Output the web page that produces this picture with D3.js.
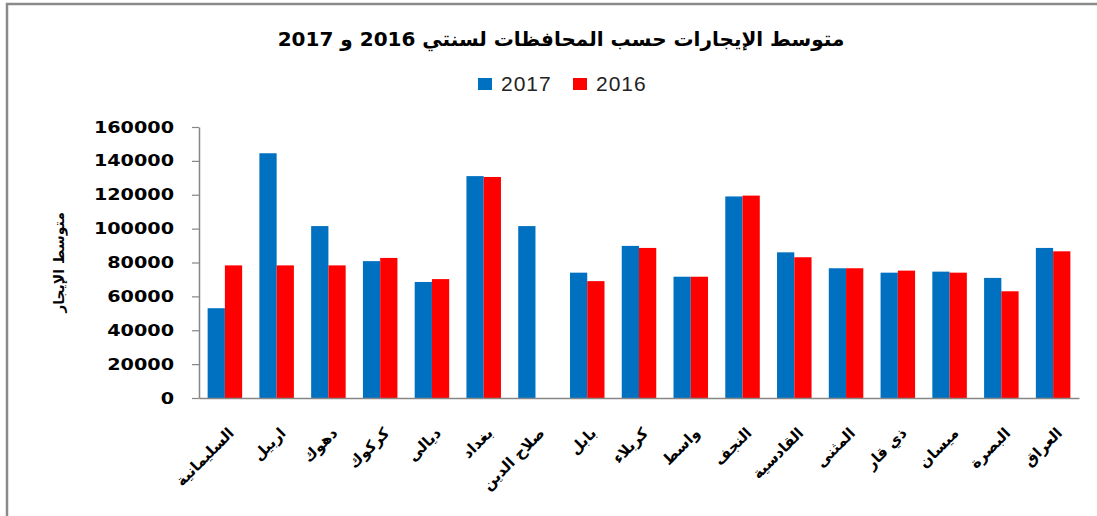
<!DOCTYPE html>
<html>
<head>
<meta charset="utf-8">
<script src="https://cdn.jsdelivr.net/npm/d3@7"></script>
<style>
  body { margin: 0; background: #fff; }
  svg { display: block; }
</style>
</head>
<body>
<svg id="chart" width="1097" height="516"></svg>
<script>
// ── Data ──────────────────────────────────────────────────────────────────────
const categories = [
  "السليمانية", "اربيل", "دهوك", "كركوك", "ديالى", "بغداد", "صلاح الدين",
  "بابل", "كربلاء", "واسط", "النجف", "القادسية", "المثنى", "ذي قار",
  "ميسان", "البصرة", "العراق",
];
const series = ["2017", "2016"];
const values2017 = [53000, 144500, 101500, 80800, 68500, 131000, 101500, 74000, 89800,
                    71600, 119000, 86000, 76600, 74000, 74600, 70900, 88600];
const values2016 = [78300, 78300, 78300, 82700, 70200, 130500, null, 69000, 88600,
                    71600, 119500, 83100, 76600, 75200, 74000, 63000, 86600];
const yTicks = [0, 20000, 40000, 60000, 80000, 100000, 120000, 140000, 160000];

const title = "متوسط الإيجارات حسب المحافظات لسنتي 2016 و 2017";
const yTitle = "متوسط الإيجار";

const COLORS = { "2017": "#0070c0", "2016": "#ff0000" };
const AXIS_GREY = "#868686";

// ── Layout ────────────────────────────────────────────────────────────────────
const plot = { left: 199, right: 1079, top: 127, bottom: 398 };

const svg = d3.select("#chart");
svg.append("rect").attr("width", 1097).attr("height", 516).attr("fill", "#fff");

// outer frame (only top and left edges are visible in the crop)
svg.append("path")
  .attr("d", "M7,516V4H1097")
  .attr("fill", "none")
  .attr("stroke", "#8a8a8a")
  .attr("stroke-width", 2.5);

const x = d3.scaleBand().domain(categories).range([plot.left, plot.right]).padding(0);
const bw = x.bandwidth();
const xInner = d3.scaleBand().domain(series).range([bw / 6, bw * 5 / 6]).padding(0);
const y = d3.scaleLinear().domain([0, 160000]).range([plot.bottom, plot.top]);

// ── Bars ──────────────────────────────────────────────────────────────────────
const rows = categories.map((c, i) => ({
  cat: c,
  vals: [{ s: "2017", v: values2017[i] }, { s: "2016", v: values2016[i] }],
}));

const groups = svg.append("g").selectAll("g")
  .data(rows).enter().append("g")
  .attr("transform", d => `translate(${x(d.cat)},0)`);

groups.selectAll("rect")
  .data(d => d.vals.filter(p => p.v != null))
  .enter().append("rect")
  .attr("x", d => xInner(d.s))
  .attr("width", xInner.bandwidth())
  .attr("y", d => y(d.v))
  .attr("height", d => y(0) - y(d.v))
  .attr("fill", d => COLORS[d.s]);

// ── Axes ──────────────────────────────────────────────────────────────────────
const yAxis = svg.append("g")
  .attr("transform", `translate(${plot.left},0)`)
  .call(d3.axisLeft(y).tickValues(yTicks).tickSize(7).tickSizeOuter(0).tickFormat(d3.format("d")));
yAxis.select(".domain").attr("stroke", AXIS_GREY).attr("stroke-width", 1.5);
yAxis.selectAll(".tick line").attr("stroke", AXIS_GREY).attr("stroke-width", 1.2);
yAxis.selectAll(".tick text")
  .attr("x", 0)
  .attr("transform", "translate(-25,0) scale(1.2,1)")
  .attr("fill", "#000")
  .style("font-family", "'DejaVu Sans', Verdana, sans-serif")
  .style("font-weight", "bold")
  .style("font-size", "16px");

const xAxis = svg.append("g")
  .attr("transform", `translate(0,${plot.bottom})`)
  .call(d3.axisBottom(x).tickSize(0).tickSizeOuter(0).tickFormat(""));
xAxis.select(".domain").attr("stroke", AXIS_GREY).attr("stroke-width", 1.5);

// category labels, rotated
svg.append("g").selectAll("text")
  .data(categories).enter().append("text")
  .attr("transform", d => `translate(${x(d) + bw / 2 + 10},434) rotate(-45)`)
  .attr("text-anchor", "end")
  .style("font-family", "'DejaVu Sans', Arial, sans-serif")
  .style("font-weight", "bold")
  .style("font-size", "15px")
  .attr("fill", "#000")
  .text(d => d);

// y axis title
svg.append("text")
  .attr("transform", `translate(64,${(plot.top + plot.bottom) / 2}) rotate(-90)`)
  .attr("text-anchor", "middle")
  .style("font-family", "'DejaVu Sans', Arial, sans-serif")
  .style("font-weight", "bold")
  .style("font-size", "14px")
  .text(yTitle);

// ── Title ─────────────────────────────────────────────────────────────────────
svg.append("text")
  .attr("x", 561)
  .attr("y", 46)
  .attr("text-anchor", "middle")
  .attr("direction", "rtl")
  .style("font-family", "'DejaVu Sans', Arial, sans-serif")
  .style("font-weight", "bold")
  .style("font-size", "20px")
  .text(title);

// ── Legend ────────────────────────────────────────────────────────────────────
const legendX = [478, 573];
const legend = svg.append("g").selectAll("g")
  .data(series).enter().append("g")
  .attr("transform", (d, i) => `translate(${legendX[i]},78)`);
legend.append("rect")
  .attr("width", 14).attr("height", 12)
  .attr("fill", d => COLORS[d]);
legend.append("text")
  .attr("x", 23).attr("y", 13)
  .style("font-family", "'Liberation Sans', Arial, sans-serif")
  .style("font-size", "21px")
  .style("letter-spacing", "1px")
  .attr("fill", "#222")
  .text(d => d);
</script>
</body>
</html>
